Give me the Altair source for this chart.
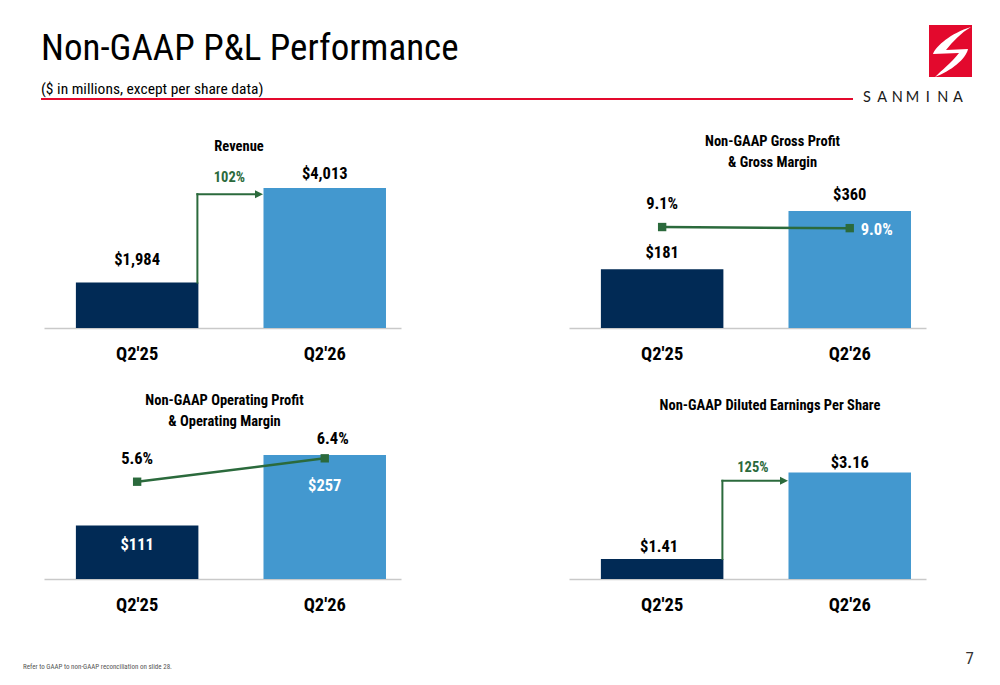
import altair as alt
import pandas as pd

# ---------------- data ----------------
quarters = ["Q2'25", "Q2'26"]

revenue = [1984, 4013]
revenue_labels = ["$1,984", "$4,013"]
revenue_growth = ["102%"]

gross_profit = [181, 360]
gross_profit_labels = ["$181", "$360"]
gross_margin = [9.1, 9.0]
gross_margin_labels = ["9.1%", "9.0%"]

op_profit = [111, 257]
op_profit_labels = ["$111", "$257"]
op_margin = [5.6, 6.4]
op_margin_labels = ["5.6%", "6.4%"]

eps = [1.41, 3.16]
eps_labels = ["$1.41", "$3.16"]
eps_growth = ["125%"]

# arrow heights (in each panel's units)
revenue_arrow_level = [3880]
eps_arrow_level = [2.99]

title_text = ["Non-GAAP P&L Performance"]
subtitle_text = ["($ in millions, except per share data)"]
footnote_text = ["Refer to GAAP to non-GAAP reconciliation on slide 28."]
page_number = ["7"]
logo_letters = ["S", "A", "N", "M", "I", "N", "A"]

panel_titles = [
    ["Revenue"],
    ["Non-GAAP Gross Profit", "& Gross Margin"],
    ["Non-GAAP Operating Profit", "& Operating Margin"],
    ["Non-GAAP Diluted Earnings Per Share"],
]

# ---------------- style ----------------
FONT = "Liberation Sans Narrow, Roboto Condensed, Liberation Sans, Arial, sans-serif"
LOGO_FONT = "Lato, Open Sans, sans-serif"
NAVY = "#012a55"
BLUE = "#4398cf"
GREEN = "#2b6a3c"
RED = "#e3092d"
AXIS_GRAY = "#c9c9c9"

PANEL_W = 357
HEADER_H = 64
ROW1_H = 152
ROW2_H = 148

LABEL_SIZE = 16.5
TITLE_SIZE = 14.5

XSCALE = alt.Scale(domain=quarters, paddingInner=0.347, paddingOuter=0.125, align=0.68)
XAXIS = alt.Axis(title=None, labelFont=FONT, labelFontSize=18.5, labelFontWeight="bold",
                 labelColor="#000000", labelPadding=16, labelAngle=0, ticks=False,
                 grid=False, domainColor=AXIS_GRAY, domainWidth=1.5)

ARROW_HEAD = "M-1,-1L1,0L-1,1Z"
SWOOSH = ("M0.788,-0.923 C0.019,-0.692 -0.558,-0.192 -0.673,0.115 L0.327,0.077 "
          "C0.019,0.462 -0.365,0.769 -0.596,1 C0.019,0.769 0.596,0.308 0.673,-0.077 "
          "L-0.173,-0.038 C0.096,-0.385 0.404,-0.692 0.788,-0.923 Z")


def xenc(field="q", band=0.5):
    return alt.X(f"{field}:N", scale=XSCALE, axis=XAXIS, bandPosition=band)


def yscale(domain):
    return alt.Scale(domain=domain, zero=False, nice=False)


def bar_block(values, labels, ydom, dys, colors, dxs=(0, 0)):
    df = pd.DataFrame({"q": quarters, "i": [0, 1], "v": values, "label": labels})
    ys = yscale(ydom)
    bars = alt.Chart(df).mark_bar().encode(
        x=xenc(),
        y=alt.Y("v:Q", scale=ys, axis=None),
        y2=alt.datum(ydom[0]),
        color=alt.Color("q:N", scale=alt.Scale(domain=quarters, range=[NAVY, BLUE]), legend=None),
    )
    layers = [bars]
    for i in range(2):
        layers.append(
            alt.Chart(df).transform_filter(alt.datum.i == i).mark_text(
                font=FONT, fontSize=LABEL_SIZE, fontWeight="bold", color=colors[i],
                dy=dys[i], dx=dxs[i], baseline="middle", align="center",
            ).encode(x=xenc(), y=alt.Y("v:Q", scale=ys, axis=None), text="label:N")
        )
    return layers, ys


def margin_block(values, labels, ydom, dys, dxs, colors, aligns):
    df = pd.DataFrame({"q": quarters, "i": [0, 1], "m": values, "label": labels})
    ms = yscale(ydom)
    y = alt.Y("m:Q", scale=ms, axis=None)
    line = alt.Chart(df).mark_line(color=GREEN, strokeWidth=2.5).encode(x=xenc(), y=y)
    pts = alt.Chart(df).mark_point(shape="square", filled=True, size=70, color=GREEN,
                                   opacity=1).encode(x=xenc(), y=y)
    layers = [line, pts]
    for i in range(2):
        layers.append(
            alt.Chart(df).transform_filter(alt.datum.i == i).mark_text(
                font=FONT, fontSize=LABEL_SIZE, fontWeight="bold", color=colors[i],
                dy=dys[i], dx=dxs[i], baseline="middle", align=aligns[i],
            ).encode(x=xenc(), y=y, text="label:N")
        )
    return layers


def arrow_block(start_val, level, text, ys, text_dx, text_dy):
    vdf = pd.DataFrame({"q": [quarters[0]], "y": [start_val], "y2": [level]})
    hdf = pd.DataFrame({"q": [quarters[0]], "q2": [quarters[1]], "y": [level]})
    adf = pd.DataFrame({"q": [quarters[1]], "y": [level]})
    tdf = pd.DataFrame({"q": [quarters[0]], "y": [level], "label": [text]})
    yv = alt.Y("y:Q", scale=ys, axis=None)
    vertical = alt.Chart(vdf).mark_rule(color=GREEN, strokeWidth=2, strokeCap="square",
                                        xOffset=-1).encode(x=xenc(band=1), y=yv, y2="y2:Q")
    horizontal = alt.Chart(hdf).mark_rule(color=GREEN, strokeWidth=2, strokeCap="square",
                                          xOffset=-1, x2Offset=-6).encode(
        x=xenc(band=1), x2=alt.X2("q2:N", bandPosition=0), y=yv)
    head = alt.Chart(adf).mark_point(shape=ARROW_HEAD, filled=True, size=64, color=GREEN,
                                     opacity=1, xOffset=-4.5).encode(x=xenc(band=0), y=yv)
    label = alt.Chart(tdf).mark_text(font=FONT, fontSize=14.5, fontWeight="bold", color=GREEN,
                                     dx=text_dx, dy=text_dy, baseline="middle").encode(
        x=xenc(band=1), y=yv, text="label:N")
    return [vertical, horizontal, head, label]


def titled(chart, lines, offset, dx, h):
    return chart.properties(
        width=PANEL_W, height=h,
        title=alt.TitleParams(text=lines, font=FONT, fontSize=TITLE_SIZE, fontWeight="bold",
                              color="#000000", anchor="middle", frame="group",
                              offset=offset, dx=dx, lineHeight=21),
    )


# ---- panel 1: revenue ----
rev_dom = [1010, 4270]
l1, ys1 = bar_block(revenue, revenue_labels, rev_dom, dys=(-23, -14), colors=("#000", "#000"))
l1 += arrow_block(revenue[0], revenue_arrow_level[0], revenue_growth[0], ys1, 31, -16)
p1 = titled(alt.layer(*l1), panel_titles[0], 11.5, 16.5, ROW1_H)

# ---- panel 2: gross profit ----
l2, _ = bar_block(gross_profit, gross_profit_labels, [0, 468], dys=(-16, -16), colors=("#000", "#000"))
m2 = margin_block(gross_margin, gross_margin_labels, [0, 13.7], dys=(-23, 2), dxs=(0, 11),
                  colors=("#000", "#ffffff"), aligns=("center", "left"))
p2 = titled(alt.layer(alt.layer(*l2), alt.layer(*m2)).resolve_scale(y="independent"),
            panel_titles[1], 5.5, 25, ROW1_H)

# ---- panel 3: operating profit ----
l3, _ = bar_block(op_profit, op_profit_labels, [0, 307], dys=(20, 31), colors=("#fff", "#fff"))
m3 = margin_block(op_margin, op_margin_labels, [2.274, 7.334], dys=(-23, -19), dxs=(0, 8),
                  colors=("#000", "#000"), aligns=("center", "center"))
p3 = titled(alt.layer(alt.layer(*l3), alt.layer(*m3)).resolve_scale(y="independent"),
            panel_titles[2], 1.5, 2, ROW2_H)

# ---- panel 4: EPS ----
eps_dom = [1.006, 3.996]
l4, ys4 = bar_block(eps, eps_labels, eps_dom, dys=(-12, -9), colors=("#000", "#000"), dxs=(-3, 0))
l4 += arrow_block(eps[0], eps_arrow_level[0], eps_growth[0], ys4, 29.5, -13)
p4 = titled(alt.layer(*l4), panel_titles[3], 18, 22.5, ROW2_H)

# ---- header / footer ----
one = pd.DataFrame({"k": [0]})


def txt(values, x, y, size, color="#000000", font=FONT, align="left", weight="normal"):
    df = pd.DataFrame({"t": values})
    return alt.Chart(df).mark_text(font=font, fontSize=size, color=color, align=align,
                                   baseline="alphabetic", fontWeight=weight).encode(
        x=alt.value(x), y=alt.value(y), text="t:N")


letters_df = pd.DataFrame({"i": list(range(len(logo_letters))), "t": logo_letters})
logo_word = alt.Chart(letters_df).mark_text(
    font=LOGO_FONT, fontSize=14.5, color="#1a1a1a", align="center", baseline="alphabetic"
).encode(
    x=alt.X("i:Q", scale=alt.Scale(domain=[0, len(logo_letters) - 1], range=[823, 914]), axis=None),
    y=alt.value(92.7),
    text="t:N",
)

header = alt.layer(
    txt(title_text, -3, 51, 37),
    txt(subtitle_text, -3, 85, 15.5),
    alt.Chart(one).mark_rule(color=RED, strokeWidth=2).encode(
        x=alt.value(-3), x2=alt.value(809), y=alt.value(90)),
    alt.Chart(one).mark_rect(color=RED).encode(
        x=alt.value(885), x2=alt.value(928), y=alt.value(16), y2=alt.value(68)),
    alt.Chart(one).mark_point(shape=SWOOSH, filled=True, color="#ffffff", size=2704,
                              opacity=1).encode(x=alt.value(906.5), y=alt.value(42)),
    logo_word,
    txt(footnote_text, -21, 660, 7, color="#555555"),
    txt(page_number, 930, 655, 17, color="#333333", align="right"),
).properties(width=PANEL_W, height=HEADER_H)

blank = alt.Chart(one).mark_point(opacity=0, size=4).encode(
    x=alt.value(100), y=alt.value(30)).properties(width=PANEL_W, height=HEADER_H)

chart = alt.concat(
    header, blank, p1, p2, p3, p4,
    columns=2, spacing={"row": 103, "column": 168}, bounds="flush", align="each",
).properties(
    padding={"left": 14, "top": 0, "right": 0, "bottom": 0}
).configure(font=FONT).configure_view(stroke="transparent")

chart.save("out.html", embed_options={"renderer": "svg", "actions": False})
